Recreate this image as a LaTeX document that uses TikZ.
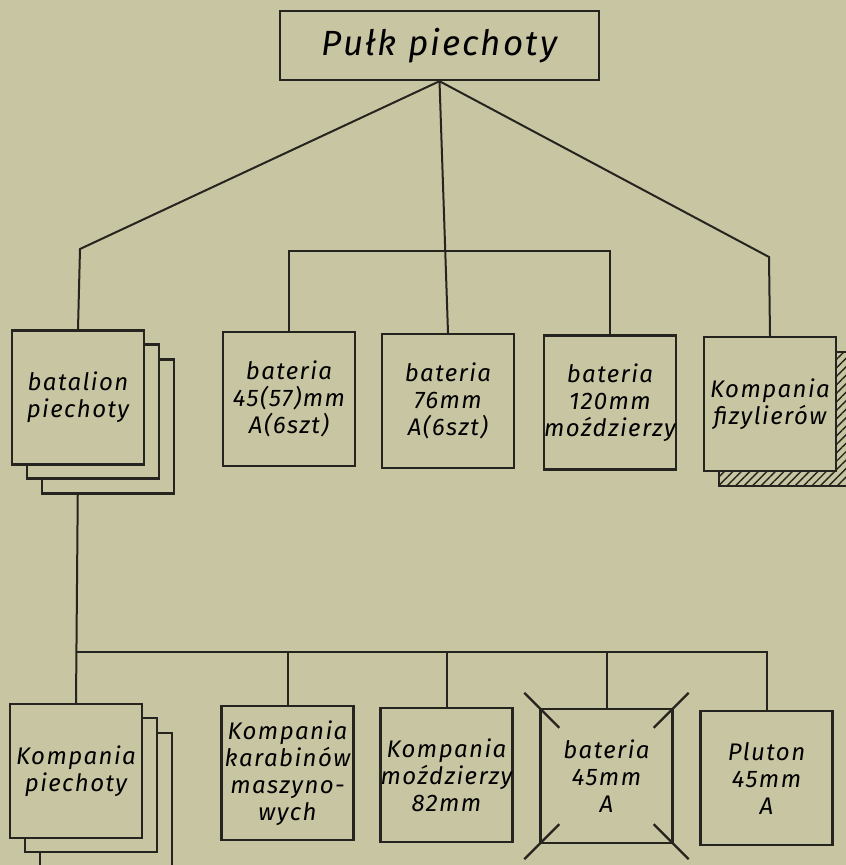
\documentclass[tikz,border=0pt]{standalone}
\usepackage{fontspec}
\newfontfamily\lettering[LetterSpace=6]{Fira Sans}
\usetikzlibrary{shadows, patterns.meta, backgrounds, calc}
\definecolor{paper}{RGB}{200,197,162}
\definecolor{ink}{RGB}{38,36,30}

\tikzset{
  unit/.style={draw=ink, line width=2.4pt, fill=paper, minimum width=132pt, minimum height=134pt,
    inner sep=0pt, align=center, font=\lettering\itshape\fontsize{24}{27}\selectfont},
  stack/.style={copy shadow={shadow xshift=30pt, shadow yshift=-29pt, fill=paper, draw=ink, line width=2.4pt},
    copy shadow={shadow xshift=15pt, shadow yshift=-14pt, fill=paper, draw=ink, line width=2.4pt}},
  hatched/.style={general shadow={shadow xshift=15pt, shadow yshift=-15pt, draw=ink, line width=2pt,
    pattern={Lines[angle=45,distance=6pt,line width=1.4pt]}, pattern color=ink}},
  link/.style={draw=ink, line width=2pt},
  cross/.style={draw=ink, line width=2.4pt}
}

\begin{document}
\begin{tikzpicture}[x=1pt,y=-1pt]
\useasboundingbox (0,0) rectangle (846,865);

% regiment
\node[unit, minimum width=319pt, minimum height=69pt, font=\lettering\itshape\fontsize{35}{40}\selectfont] (regiment) at (439.5,45.5) {Pułk piechoty};

% first row
\node[unit, stack] (batalion) at (78,397.5) {batalion\\piechoty};
\node[unit] (bat45) at (289,399) {bateria\\45(57)mm\\A(6szt)};
\node[unit] (bat76) at (448,401) {bateria\\76mm\\A(6szt)};
\node[unit] (bat120) at (610,402.5) {bateria\\120mm\\moździerzy};
\node[unit, hatched] (fizyl) at (770,404) {Kompania\\fizylierów};

% second row
\node[unit, stack] (kompPiech) at (76,771) {Kompania\\piechoty};
\node[unit] (kompKM) at (287.5,773) {Kompania\\karabinów\\maszyno-\\wych};
\node[unit] (kompMoz) at (446.5,775) {Kompania\\moździerzy\\82mm};
\node[unit] (bat45a) at (606.5,776) {bateria\\45mm\\A};
\node[unit] (pluton) at (766.5,778) {Pluton\\45mm\\A};

% crossed out
\foreach \c/\dx/\dy in {north west/1/1, north east/-1/1, south west/1/-1, south east/-1/-1}
  \draw[cross] ($(bat45a.\c)+(-15*\dx,-15*\dy)$) -- ($(bat45a.\c)+(20*\dx,20*\dy)$);

\begin{scope}[on background layer]
\fill[paper] (0,0) rectangle (846,865);
\coordinate (topbar) at (0,251);
\coordinate (lowbar) at (0,652);
\draw[link] (regiment.south) -- (80,249) -- (batalion.north);
\draw[link] (regiment.south) -- (bat76.north);
\draw[link] (regiment.south) -- (769,257) -- (fizyl.north);
\draw[link] (bat45.north) -- (bat45.north |- topbar) -- (bat120.north |- topbar) -- (bat120.north);
\draw[link] (batalion.south) -- (kompPiech.north);
\draw[link] (kompPiech.north |- lowbar) -- (pluton.north |- lowbar) -- (pluton.north);
\foreach \n in {kompKM, kompMoz, bat45a}
  \draw[link] (\n.north |- lowbar) -- (\n.north);
\end{scope}
\end{tikzpicture}
\end{document}
